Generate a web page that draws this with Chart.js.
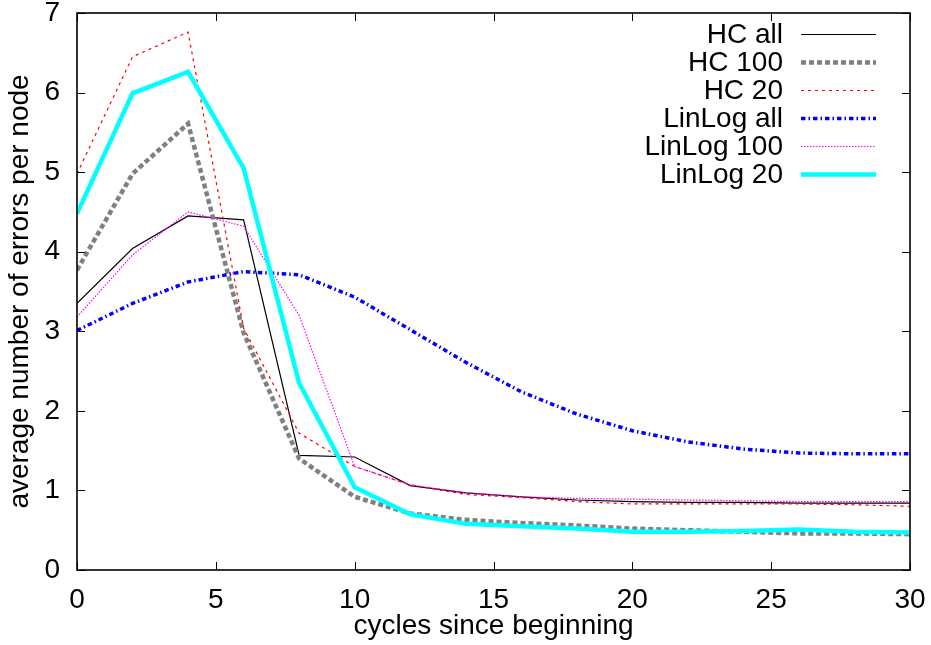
<!DOCTYPE html>
<html>
<head>
<meta charset="utf-8">
<script src="https://cdn.jsdelivr.net/npm/chart.js@4/dist/chart.umd.min.js"></script>
<style>
html,body{margin:0;padding:0;background:#fff;}
#wrap{width:931px;height:645px;position:relative;}
</style>
</head>
<body>
<div id="wrap"><canvas id="c" width="931" height="645"></canvas></div>
<script>
const cycles = [0, 2, 4, 6, 8, 10, 12, 14, 16, 18, 20, 22, 24, 26, 28, 30];
const seriesNames = ["HC all", "HC 100", "HC 20", "LinLog all", "LinLog 100", "LinLog 20"];
const hcAll     = [3.35, 4.04, 4.45, 4.40, 1.44, 1.42, 1.06, 0.97, 0.92, 0.88, 0.86, 0.85, 0.85, 0.84, 0.84, 0.84];
const hc100     = [3.77, 4.98, 5.61, 2.98, 1.40, 0.92, 0.71, 0.63, 0.59, 0.56, 0.52, 0.50, 0.48, 0.46, 0.46, 0.45];
const hc20      = [4.98, 6.45, 6.76, 3.04, 1.72, 1.30, 1.07, 0.95, 0.91, 0.86, 0.83, 0.83, 0.83, 0.83, 0.82, 0.80];
const linlogAll = [3.01, 3.35, 3.62, 3.75, 3.71, 3.43, 3.02, 2.61, 2.24, 1.96, 1.75, 1.61, 1.52, 1.47, 1.46, 1.46];
const linlog100 = [3.18, 3.96, 4.50, 4.32, 3.20, 1.30, 1.07, 0.97, 0.92, 0.90, 0.89, 0.88, 0.87, 0.86, 0.86, 0.86];
const linlog20  = [4.48, 5.99, 6.26, 5.05, 2.35, 1.04, 0.70, 0.58, 0.55, 0.52, 0.48, 0.48, 0.49, 0.51, 0.48, 0.47];
const xTicks = [0, 5, 10, 15, 20, 25, 30];
const yTicks = [0, 1, 2, 3, 4, 5, 6, 7];
const xTitle = "cycles since beginning";
const yTitle = "average number of errors per node";

const FONT = "'Liberation Sans', Arial, Helvetica, sans-serif";
const FS = 28;

const styles = [
  {color: "#000000", width: 1.2, dash: []},
  {color: "#808080", width: 4.5, dash: [5, 3]},
  {color: "#ff0000", width: 1.2, dash: [3, 4]},
  {color: "#0000ff", width: 3.5, dash: [4.5, 3, 1.5, 3]},
  {color: "#ff00ff", width: 1.2, dash: [1.5, 1.5]},
  {color: "#00ffff", width: 4.5, dash: []}
];
const allSeries = [hcAll, hc100, hc20, linlogAll, linlog100, linlog20];

const datasets = allSeries.map((vals, i) => ({
  label: seriesNames[i],
  data: cycles.map((c, j) => ({x: c, y: vals[j]})),
  borderColor: styles[i].color,
  backgroundColor: styles[i].color,
  borderWidth: styles[i].width,
  borderDash: styles[i].dash,
  pointRadius: 0,
  tension: 0,
  fill: false,
  order: 6 - i
}));

const framePlugin = {
  id: "frame",
  afterDatasetsDraw(chart) {
    const ctx = chart.ctx;
    const a = chart.chartArea;
    const xs = chart.scales.x, ys = chart.scales.y;
    const TL = 8;
    ctx.save();
    ctx.strokeStyle = "#000";
    ctx.lineWidth = 1;
    ctx.setLineDash([]);
    ctx.beginPath();
    xTicks.forEach(v => {
      const px = Math.round(xs.getPixelForValue(v)) + 0.5;
      ctx.moveTo(px, a.bottom); ctx.lineTo(px, a.bottom - TL);
      ctx.moveTo(px, a.top); ctx.lineTo(px, a.top + TL);
    });
    yTicks.forEach(v => {
      const py = Math.round(ys.getPixelForValue(v)) + 0.5;
      ctx.moveTo(a.left, py); ctx.lineTo(a.left + TL, py);
      ctx.moveTo(a.right, py); ctx.lineTo(a.right - TL, py);
    });
    ctx.stroke();
    ctx.lineWidth = 1.6;
    ctx.strokeRect(a.left, a.top, a.right - a.left, a.bottom - a.top);
    ctx.restore();
  }
};

const legendPlugin = {
  id: "customLegend",
  afterDraw(chart) {
    const ctx = chart.ctx;
    const a = chart.chartArea;
    const textRight = a.right - 127;
    const x0 = a.right - 109, x1 = a.right - 34;
    const y0 = a.top + 21.5, dy = 28;
    ctx.save();
    ctx.font = FS + "px " + FONT;
    ctx.fillStyle = "#000";
    ctx.textAlign = "right";
    ctx.textBaseline = "middle";
    chart.data.datasets.forEach((ds, i) => {
      const y = y0 + i * dy;
      ctx.fillText(ds.label, textRight, y + 1);
      ctx.beginPath();
      ctx.strokeStyle = ds.borderColor;
      ctx.lineWidth = ds.borderWidth;
      ctx.setLineDash(ds.borderDash);
      ctx.moveTo(x0, y); ctx.lineTo(x1, y);
      ctx.stroke();
    });
    ctx.restore();
  }
};

new Chart(document.getElementById("c"), {
  type: "line",
  data: {datasets},
  options: {
    responsive: false,
    animation: false,
    devicePixelRatio: 1,
    layout: {padding: {left: 0, right: 21, top: 13, bottom: 0}},
    plugins: {legend: {display: false}, tooltip: {enabled: false}},
    scales: {
      x: {
        type: "linear", min: 0, max: 30,
        afterBuildTicks(s) { s.ticks = xTicks.map(v => ({value: v})); },
        afterFit(s) { s.height = 75; s.paddingLeft = 0; s.paddingRight = 0; },
        grid: {display: false, drawTicks: false},
        border: {display: false},
        ticks: {font: {family: FONT, size: FS}, color: "#000", padding: 13, maxRotation: 0, autoSkip: false},
        title: {display: true, text: xTitle, font: {family: FONT, size: FS}, color: "#000", padding: {top: 0, bottom: 2}}
      },
      y: {
        type: "linear", min: 0, max: 7,
        afterBuildTicks(s) { s.ticks = yTicks.map(v => ({value: v})); },
        afterFit(s) { s.width = 77; s.paddingTop = 0; s.paddingBottom = 0; },
        grid: {display: false, drawTicks: false},
        border: {display: false},
        ticks: {font: {family: FONT, size: FS}, color: "#000", padding: 17, autoSkip: false},
        title: {display: true, text: yTitle, font: {family: FONT, size: FS}, color: "#000", padding: {top: 3, bottom: 0}}
      }
    }
  },
  plugins: [framePlugin, legendPlugin]
});
</script>
</body>
</html>
